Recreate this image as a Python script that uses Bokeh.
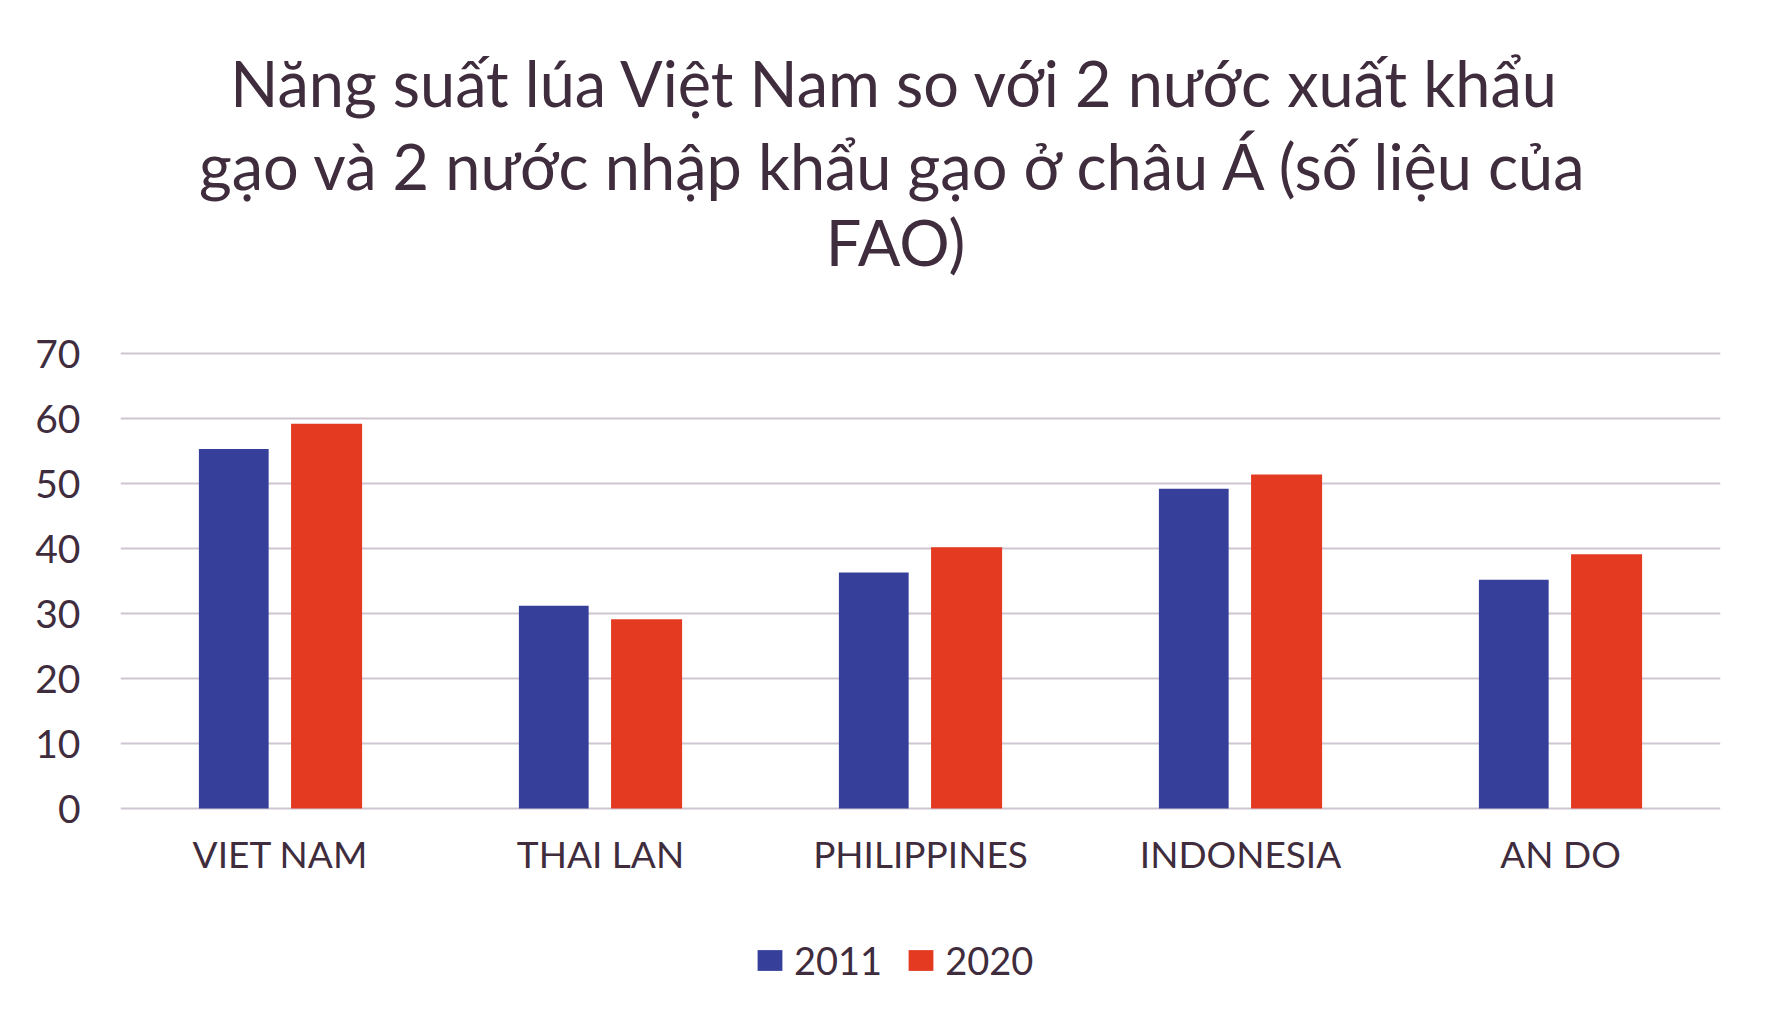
from bokeh.plotting import figure
from bokeh.models import (ColumnDataSource, FactorRange, Range1d, Label, Legend,
                          LegendItem, FixedTicker)
from bokeh.transform import dodge
from bokeh.embed import file_html
from bokeh.resources import INLINE

# ---- data ----
countries = ["VIET NAM", "THAI LAN", "PHILIPPINES", "INDONESIA", "AN DO"]
yield_2011 = [55.3, 31.2, 36.3, 49.2, 35.2]
yield_2020 = [59.2, 29.1, 40.2, 51.4, 39.1]
series_names = ["2011", "2020"]
y_ticks = [0, 10, 20, 30, 40, 50, 60, 70]
title_lines = [
    "Năng suất lúa Việt Nam so với 2 nước xuất khẩu",
    "gạo và 2 nước nhập khẩu gạo ở châu Á (số liệu của",
    "FAO)",
]

# ---- style ----
FONT = "Lato"
TEXT = "#3f2c3d"
BLUE = "#36409a"
RED = "#e33a21"
GRID = "#cdc6d1"

W, H = 1756, 1019
ML, MR = 120, 36
Y0_PX, PX_PER_UNIT = 808, 6.5      # where value 0 sits, and scale
CAT_PX = (W - ML - MR) / len(countries)

src = ColumnDataSource(dict(country=countries, y2011=yield_2011, y2020=yield_2020))

p = figure(
    width=W, height=H, output_backend="svg", toolbar_location=None,
    x_range=FactorRange(factors=countries),
    y_range=Range1d(-(H - Y0_PX) / PX_PER_UNIT, Y0_PX / PX_PER_UNIT),
    min_border_left=ML, min_border_right=MR, min_border_top=0, min_border_bottom=0,
    background_fill_color="white", border_fill_color="white",
)
p.outline_line_color = None

r1 = p.vbar(x=dodge("country", -0.146, range=p.x_range), top="y2011", width=0.218,
            source=src, fill_color=BLUE, line_color=None)
r2 = p.vbar(x=dodge("country", 0.144, range=p.x_range), top="y2020", width=0.222,
            source=src, fill_color=RED, line_color=None)

# axes
p.yaxis.ticker = FixedTicker(ticks=y_ticks)
p.yaxis.axis_line_color = None
p.yaxis.major_tick_line_color = None
p.yaxis.minor_tick_line_color = None
p.yaxis.major_label_standoff = 34
p.yaxis.major_label_text_font = FONT
p.yaxis.major_label_text_font_size = "39px"
p.yaxis.major_label_text_color = TEXT

p.xaxis.fixed_location = 0
p.xaxis.axis_line_color = None
p.xaxis.major_tick_line_color = None
p.xaxis.major_label_standoff = 16
p.xaxis.major_label_text_font = FONT
p.xaxis.major_label_text_font_size = "37px"
p.xaxis.major_label_text_color = TEXT

p.xgrid.grid_line_color = None
p.ygrid.grid_line_color = GRID
p.ygrid.grid_line_width = 2

def dy(px):
    return (Y0_PX - px) / PX_PER_UNIT

def dx(px):
    return (px - ML) / CAT_PX

for line, base in zip(title_lines, [82, 165, 241]):
    p.add_layout(Label(x=dx(895), y=dy(base), text=line, text_align="center",
                       text_baseline="alphabetic", text_font=FONT,
                       text_font_size="63px", text_color=TEXT))

legend = Legend(
    items=[LegendItem(label=series_names[0], renderers=[r1]),
           LegendItem(label=series_names[1], renderers=[r2])],
    orientation="horizontal", location=(754 - ML, H - 983),
    glyph_width=31, glyph_height=26, label_standoff=9, spacing=23,
    padding=0, margin=0, border_line_color=None, background_fill_alpha=0,
    label_text_font=FONT, label_text_font_size="38px", label_text_color=TEXT,
)
p.add_layout(legend, "center")

open("out.html", "w").write(file_html(p, INLINE))
